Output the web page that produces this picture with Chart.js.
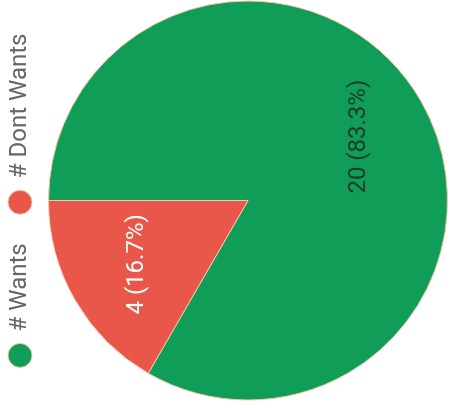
<!DOCTYPE html>
<html>
<head>
<meta charset="utf-8">
<script src="https://cdn.jsdelivr.net/npm/chart.js@4"></script>
<style>
  html, body { margin: 0; padding: 0; background: #fff; overflow: hidden; }
  #wrap {
    position: absolute; left: 0; top: 0;
    width: 409px; height: 450px;
    transform-origin: 0 0;
    transform: translate(0, 409px) rotate(-90deg);
  }
</style>
</head>
<body>
<div id="wrap"><canvas id="myChart" width="409" height="450"></canvas></div>
<script>
var labels = ["# Wants", "# Dont Wants"];
var values = [20, 4];
var colors = ["#0F9D58", "#E9564A"];
var labelColors = ["#1f3a2a", "#ffffff"];

// draws "value (pct%)" on each slice
var sliceLabels = {
    id: "sliceLabels",
    afterInit: function(chart) {
        // legend sits a bit higher, pie starts a bit lower
        var fit = chart.legend.fit;
        chart.legend.fit = function() {
            fit.call(this);
            this.height += 6;
        };
    },
    afterDatasetsDraw: function(chart) {
        var ctx = chart.ctx;
        var meta = chart.getDatasetMeta(0);
        var total = values.reduce(function(a, b) { return a + b; }, 0);
        ctx.save();
        ctx.font = "24px Roboto";
        ctx.textAlign = "center";
        ctx.textBaseline = "middle";
        meta.data.forEach(function(arc, i) {
            var a = (arc.startAngle + arc.endAngle) / 2;
            var r = arc.outerRadius * 0.64;
            var x = arc.x + Math.cos(a) * r;
            var y = arc.y + Math.sin(a) * r;
            ctx.fillStyle = labelColors[i];
            ctx.fillText(values[i] + " (" + (values[i] / total * 100).toFixed(1) + "%)", x, y);
        });
        ctx.restore();
    }
};

var ctx = document.getElementById("myChart");
var pie = new Chart(ctx, {
    type: "pie",
    data: {
        labels: labels,
        datasets: [{
            data: values,
            backgroundColor: colors,
            borderColor: "#f4c9a8",
            borderWidth: 1
        }]
    },
    options: {
        responsive: false,
        animation: false,
        layout: { padding: { left: 8, right: 0, top: -21, bottom: 2 } },
        plugins: {
            legend: {
                position: "top",
                labels: {
                    usePointStyle: true,
                    pointStyle: "circle",
                    boxWidth: 26,
                    boxHeight: 17,
                    color: "#666",
                    padding: 29,
                    font: { family: "Roboto", size: 24 }
                }
            },
            tooltip: { enabled: false }
        }
    },
    plugins: [sliceLabels]
});
</script>
</body>
</html>
